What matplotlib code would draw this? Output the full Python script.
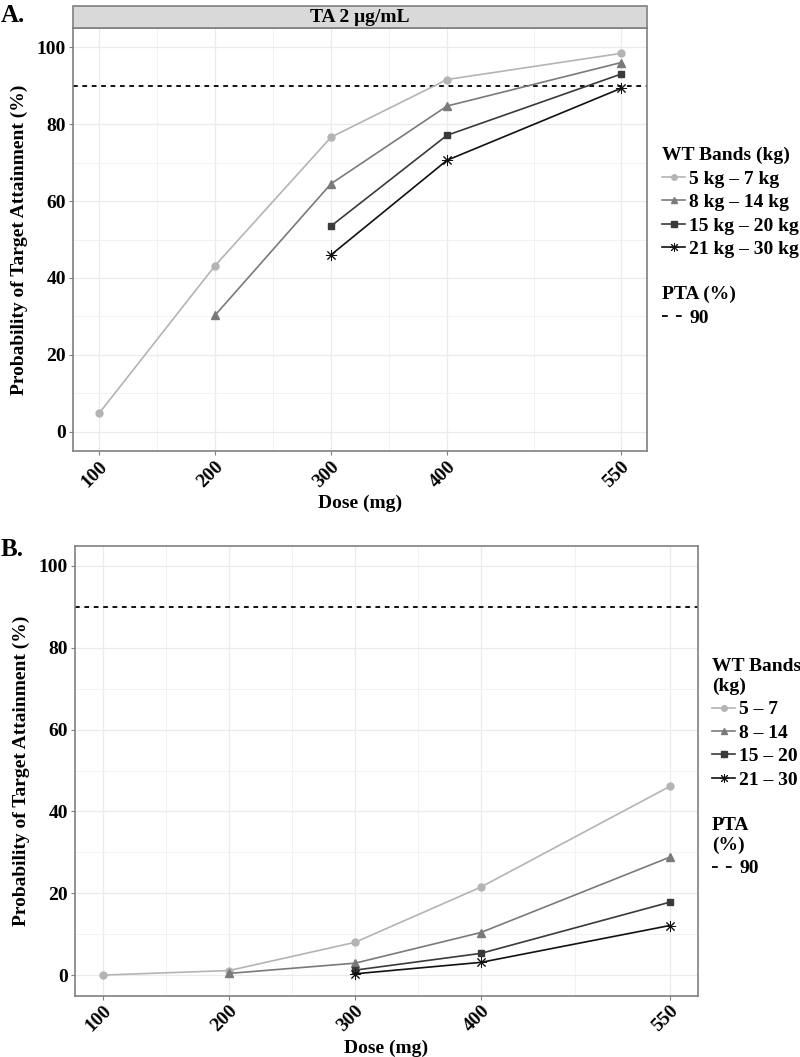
import matplotlib
matplotlib.use("Agg")
import matplotlib.pyplot as plt
from matplotlib.lines import Line2D
from matplotlib.patches import Rectangle

plt.rcParams['font.family'] = ['Liberation Serif', 'DejaVu Serif']
plt.rcParams['font.weight'] = 'bold'
plt.rcParams['font.size'] = 14

# x axis
dose_ticks = [100, 200, 300, 400, 550]
dose_minor = [150, 250, 350, 475]

# doses simulated for each weight band
dose_5_7 = [100, 200, 300, 400, 550]
dose_8_14 = [200, 300, 400, 550]
dose_15_20 = [300, 400, 550]
dose_21_30 = [300, 400, 550]

# panel A: TA 2 ug/mL, PTA (%)
pta_a_5_7 = [4.8, 43.2, 76.6, 91.6, 98.4]
pta_a_8_14 = [30.3, 64.5, 84.7, 96.0]
pta_a_15_20 = [53.5, 77.1, 93.0]
pta_a_21_30 = [46.0, 70.6, 89.3]

# panel B
pta_b_5_7 = [0.0, 1.1, 8.0, 21.5, 46.1]
pta_b_8_14 = [0.4, 2.9, 10.4, 28.8]
pta_b_15_20 = [1.2, 5.3, 17.8]
pta_b_21_30 = [0.3, 3.1, 12.1]

labels_a = ['5 kg \u2013 7 kg', '8 kg \u2013 14 kg', '15 kg \u2013 20 kg', '21 kg \u2013 30 kg']
labels_b = ['5 \u2013 7', '8 \u2013 14', '15 \u2013 20', '21 \u2013 30']
target = 90

colors = ['#b4b4b4', '#7a7a7a', '#3a3a3a', '#111111']
markers = ['o', '^', 's', (8, 2, 0)]
msizes = [5, 6, 5, 8]
mews = [1.0, 1.0, 1.0, 0.7]

GRID_MAJ = '#ebebeb'
GRID_MIN = '#f2f2f2'
FRAME = '#808080'
FS = 14


def style_axes(ax):
    ax.set_xlim(77.5, 572.5)
    ax.set_ylim(-5, 105)
    ax.set_xticks(dose_ticks)
    ax.set_xticks(dose_minor, minor=True)
    ax.set_yticks(range(0, 101, 20))
    ax.set_yticks(range(10, 100, 20), minor=True)
    ax.grid(which='major', color=GRID_MAJ, lw=0.9)
    ax.grid(which='minor', color=GRID_MIN, lw=0.7)
    ax.set_axisbelow(True)
    for s in ax.spines.values():
        s.set_color(FRAME)
        s.set_linewidth(1.2)
    ax.tick_params(which='major', length=3, width=0.8, color=FRAME, labelsize=FS, pad=2)
    ax.tick_params(which='minor', length=0)
    for lab in ax.get_xticklabels():
        lab.set_rotation(45)
        lab.set_ha('right')
        lab.set_va('top')
        lab.set_rotation_mode('anchor')
        lab.set_fontweight('bold')
    for lab in ax.get_yticklabels():
        lab.set_fontweight('bold')
    ax.set_xlabel('Dose (mg)', fontweight='bold', fontsize=FS, labelpad=3)
    ax.set_ylabel('Probability of Target Attainment (%)', fontweight='bold', fontsize=FS, labelpad=6)


def draw_panel(ax, series):
    doses = [dose_5_7, dose_8_14, dose_15_20, dose_21_30]
    ax.axhline(target, color='black', ls=(0, (2.6, 2.6)), lw=1.3, zorder=1)
    for x, y, c, m, ms, mw in zip(doses, series, colors, markers, msizes, mews):
        ax.plot(x, y, color=c, lw=1.2, marker=m, ms=ms, mec=c, mew=mw, zorder=3)


def add_legends(x0, top_wt, top_pta, wt_labels, wt_title, pta_title):
    handles = [Line2D([], [], color=c, lw=1.2, marker=m, ms=ms * 0.8, mec=c, mew=mw)
               for c, m, ms, mw in zip(colors, markers, msizes, mews)]
    common = dict(loc='upper left', frameon=False, borderpad=0, borderaxespad=0,
                  handlelength=1.2, handletextpad=0.2, labelspacing=0.3,
                  alignment='left', prop={'weight': 'bold', 'size': FS},
                  title_fontproperties={'weight': 'bold', 'size': FS})
    fig.legend(handles, wt_labels, title=wt_title,
               bbox_to_anchor=(x0, 1 - top_wt / 1057), **common)
    dash = Line2D([], [], color='black', ls=(0, (3.2, 4.5)), lw=1.3)
    fig.legend([dash], [str(target)], title=pta_title,
               bbox_to_anchor=(x0, 1 - top_pta / 1057), **common)


fig = plt.figure(figsize=(8, 10.57), dpi=100)

# panel A
ax_a = fig.add_axes([73 / 800, 1 - 451 / 1057, 574 / 800, 423 / 1057])
draw_panel(ax_a, [pta_a_5_7, pta_a_8_14, pta_a_15_20, pta_a_21_30])
style_axes(ax_a)

# facet strip
fig.patches.append(Rectangle((73 / 800, 1 - 28 / 1057), 574 / 800, 22 / 1057,
                             transform=fig.transFigure, facecolor='#d9d9d9',
                             edgecolor=FRAME, lw=1.2))
fig.text(360 / 800, 1 - 17 / 1057, 'TA 2 \u03bcg/mL', ha='center', va='center',
         fontsize=FS, fontweight='bold')

# panel B
ax_b = fig.add_axes([75 / 800, 1 - 995.5 / 1057, 623 / 800, 450 / 1057])
draw_panel(ax_b, [pta_b_5_7, pta_b_8_14, pta_b_15_20, pta_b_21_30])
style_axes(ax_b)

fig.text(1 / 800, 1 - 16 / 1057, 'A.', fontsize=18, fontweight='bold', va='center', ha='left')
fig.text(1 / 800, 1 - 549 / 1057, 'B.', fontsize=18, fontweight='bold', va='center', ha='left')

add_legends(662 / 800, 147, 286, labels_a, 'WT Bands (kg)', 'PTA (%)')
add_legends(712 / 800, 658, 817, labels_b, 'WT Bands\n(kg)', 'PTA\n(%)')

fig.savefig('out.png', dpi=100)
